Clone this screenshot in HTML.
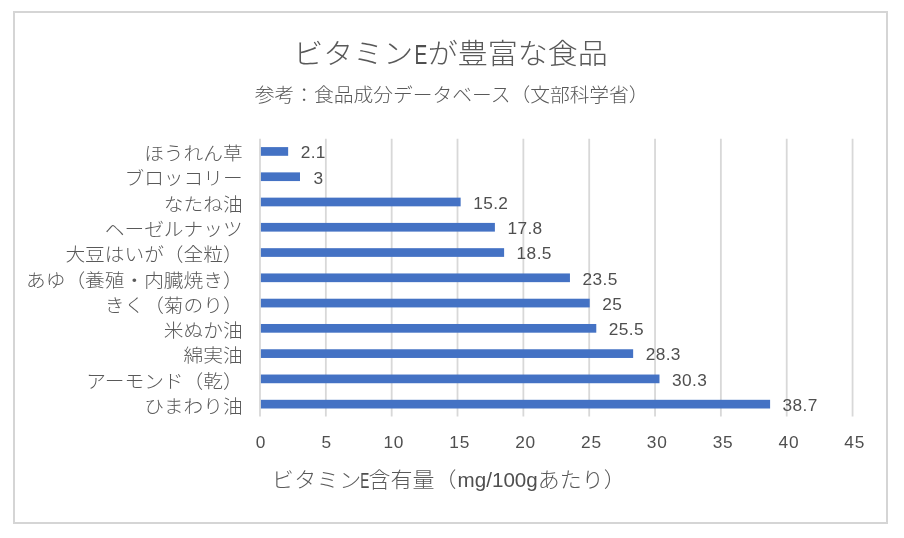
<!DOCTYPE html>
<html lang="ja"><head><meta charset="utf-8"><title>ビタミンEが豊富な食品</title>
<style>html,body{margin:0;padding:0;background:#fff}svg{display:block}text{font-family:"Liberation Sans","Noto Sans CJK JP",sans-serif;fill:#595959}.j{font-weight:300}.n{font-weight:400;fill:#4f4f4f}</style></head><body>
<svg width="904" height="538" viewBox="0 0 904 538">
<rect x="0" y="0" width="904" height="538" fill="#fff"/>
<rect x="14" y="12" width="873" height="511" fill="#fff" stroke="#d5d5d5" stroke-width="2"/>
<line x1="260.00" y1="138.7" x2="260.00" y2="416.6" stroke="#d8d8d8" stroke-width="1.8"/>
<line x1="325.84" y1="138.7" x2="325.84" y2="416.6" stroke="#d8d8d8" stroke-width="1.8"/>
<line x1="391.68" y1="138.7" x2="391.68" y2="416.6" stroke="#d8d8d8" stroke-width="1.8"/>
<line x1="457.52" y1="138.7" x2="457.52" y2="416.6" stroke="#d8d8d8" stroke-width="1.8"/>
<line x1="523.36" y1="138.7" x2="523.36" y2="416.6" stroke="#d8d8d8" stroke-width="1.8"/>
<line x1="589.20" y1="138.7" x2="589.20" y2="416.6" stroke="#d8d8d8" stroke-width="1.8"/>
<line x1="655.04" y1="138.7" x2="655.04" y2="416.6" stroke="#d8d8d8" stroke-width="1.8"/>
<line x1="720.88" y1="138.7" x2="720.88" y2="416.6" stroke="#d8d8d8" stroke-width="1.8"/>
<line x1="786.72" y1="138.7" x2="786.72" y2="416.6" stroke="#d8d8d8" stroke-width="1.8"/>
<line x1="852.56" y1="138.7" x2="852.56" y2="416.6" stroke="#d8d8d8" stroke-width="1.8"/>
<rect x="260.90" y="147.10" width="27.25" height="8.70" fill="#4472c4"/>
<rect x="260.90" y="172.37" width="39.10" height="8.70" fill="#4472c4"/>
<rect x="260.90" y="197.64" width="199.75" height="8.70" fill="#4472c4"/>
<rect x="260.90" y="222.91" width="233.99" height="8.70" fill="#4472c4"/>
<rect x="260.90" y="248.18" width="243.21" height="8.70" fill="#4472c4"/>
<rect x="260.90" y="273.45" width="309.05" height="8.70" fill="#4472c4"/>
<rect x="260.90" y="298.72" width="328.80" height="8.70" fill="#4472c4"/>
<rect x="260.90" y="323.99" width="335.38" height="8.70" fill="#4472c4"/>
<rect x="260.90" y="349.26" width="372.25" height="8.70" fill="#4472c4"/>
<rect x="260.90" y="374.53" width="398.59" height="8.70" fill="#4472c4"/>
<rect x="260.90" y="399.80" width="509.20" height="8.70" fill="#4472c4"/>
<text class="j" transform="translate(293.20 63.70) scale(1 0.950)" font-size="30">ビタミン</text>
<text class="n" x="414.40" y="63.60" font-size="28.4" textLength="12.8" lengthAdjust="spacingAndGlyphs">E</text>
<text class="j" transform="translate(427.80 63.70) scale(1 0.950)" font-size="30">が豊富な食品</text>
<text class="j" transform="translate(451.70 102.00) scale(1 0.950)" font-size="19.75" text-anchor="middle">参考：食品成分データベース（文部科学省）</text>
<text class="j" transform="translate(242.60 160.15) scale(1 0.950)" font-size="19.7" text-anchor="end">ほうれん草</text>
<text class="j" transform="translate(242.60 185.42) scale(1 0.950)" font-size="19.7" text-anchor="end">ブロッコリー</text>
<text class="j" transform="translate(242.60 210.69) scale(1 0.950)" font-size="19.7" text-anchor="end">なたね油</text>
<text class="j" transform="translate(242.60 235.96) scale(1 0.950)" font-size="19.7" text-anchor="end">ヘーゼルナッツ</text>
<text class="j" transform="translate(242.60 261.23) scale(1 0.950)" font-size="19.7" text-anchor="end">大豆はいが（全粒）</text>
<text class="j" transform="translate(242.60 286.50) scale(1 0.950)" font-size="19.7" text-anchor="end">あゆ（養殖・内臓焼き）</text>
<text class="j" transform="translate(242.60 311.77) scale(1 0.950)" font-size="19.7" text-anchor="end">きく（菊のり）</text>
<text class="j" transform="translate(242.60 337.04) scale(1 0.950)" font-size="19.7" text-anchor="end">米ぬか油</text>
<text class="j" transform="translate(242.60 362.31) scale(1 0.950)" font-size="19.7" text-anchor="end">綿実油</text>
<text class="j" transform="translate(242.60 387.58) scale(1 0.950)" font-size="19.7" text-anchor="end">アーモンド（乾）</text>
<text class="j" transform="translate(242.60 412.85) scale(1 0.950)" font-size="19.7" text-anchor="end">ひまわり油</text>
<text class="n" x="300.65" y="158.25" font-size="17.3" letter-spacing="0.4">2.1</text>
<text class="n" x="313.50" y="183.52" font-size="17.3" letter-spacing="0.4">3</text>
<text class="n" x="473.15" y="208.79" font-size="17.3" letter-spacing="0.4">15.2</text>
<text class="n" x="507.39" y="234.06" font-size="17.3" letter-spacing="0.4">17.8</text>
<text class="n" x="516.61" y="259.33" font-size="17.3" letter-spacing="0.4">18.5</text>
<text class="n" x="582.45" y="284.60" font-size="17.3" letter-spacing="0.4">23.5</text>
<text class="n" x="602.20" y="309.87" font-size="17.3" letter-spacing="0.4">25</text>
<text class="n" x="608.78" y="335.14" font-size="17.3" letter-spacing="0.4">25.5</text>
<text class="n" x="645.65" y="360.41" font-size="17.3" letter-spacing="0.4">28.3</text>
<text class="n" x="671.99" y="385.68" font-size="17.3" letter-spacing="0.4">30.3</text>
<text class="n" x="782.60" y="410.95" font-size="17.3" letter-spacing="0.4">38.7</text>
<text class="n" x="260.50" y="447.80" font-size="17.3" text-anchor="middle">0</text>
<text class="n" x="326.34" y="447.80" font-size="17.3" text-anchor="middle">5</text>
<text class="n" x="393.88" y="447.80" font-size="17.3" text-anchor="middle" letter-spacing="0.8">10</text>
<text class="n" x="459.72" y="447.80" font-size="17.3" text-anchor="middle" letter-spacing="0.8">15</text>
<text class="n" x="525.56" y="447.80" font-size="17.3" text-anchor="middle" letter-spacing="0.8">20</text>
<text class="n" x="591.40" y="447.80" font-size="17.3" text-anchor="middle" letter-spacing="0.8">25</text>
<text class="n" x="657.24" y="447.80" font-size="17.3" text-anchor="middle" letter-spacing="0.8">30</text>
<text class="n" x="723.08" y="447.80" font-size="17.3" text-anchor="middle" letter-spacing="0.8">35</text>
<text class="n" x="788.92" y="447.80" font-size="17.3" text-anchor="middle" letter-spacing="0.8">40</text>
<text class="n" x="854.76" y="447.80" font-size="17.3" text-anchor="middle" letter-spacing="0.8">45</text>
<text class="j" transform="translate(271.70 487.00) scale(1 0.950)" font-size="22" letter-spacing="0.5">ビタミン</text>
<text class="n" x="360.30" y="487.60" font-size="22.6" textLength="9.1" lengthAdjust="spacingAndGlyphs">E</text>
<text class="j" transform="translate(368.60 487.00) scale(1 0.950)" font-size="22">含有量（</text>
<text class="n" x="457.60" y="487.30" font-size="20.6">mg/100g</text>
<text class="j" transform="translate(537.70 487.00) scale(1 0.950)" font-size="22">あたり）</text>
</svg></body></html>
